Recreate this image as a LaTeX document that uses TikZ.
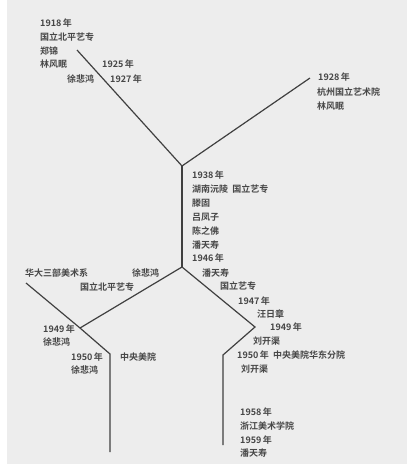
\documentclass[tikz,border=0pt]{standalone}
\usepackage{fontspec}
\setmainfont{Liberation Serif}
\newfontfamily\cjk{Noto Sans CJK SC}[BoldFont={Noto Sans CJK SC Bold}]
\newcommand{\yr}[1]{#1\,{\cjk 年}}
\begin{document}
\begin{tikzpicture}[x=1pt,y=-1pt,
  lbl/.style={anchor=west,inner sep=0pt,font=\fontsize{9}{9}\selectfont\cjk\bfseries,text=black!72},
  branch/.style={draw=black!75,line width=1.2pt}]
\fill[black!7] (0,0) rectangle (407,464);
\fill[white] (0,0) rectangle (7,464);
\useasboundingbox (0,0) rectangle (407,464);
% junction coordinates
\coordinate (ul) at (77,50);
\coordinate (ur) at (310,78);
\coordinate (j1) at (182,166);
\coordinate (j2) at (182,267);
\coordinate (la) at (26,283);
\coordinate (lm) at (80,328);
\coordinate (lb) at (110,354);
\coordinate (le) at (110,452);
\coordinate (rk) at (255,327);
\coordinate (rb) at (223,355);
\coordinate (re) at (223,445);
% connectors
\draw[branch] (ul) -- (j1);
\draw[branch] (ur) -- (j1);
\draw[branch] (j1) -- (j2);
\draw[branch] (j2) -- (lm);
\draw[branch] (la) -- (lm) -- (lb) -- (le);
\draw[branch] (j2) -- (rk) -- (rb) -- (re);
% labels top-left
\node[lbl] (t1) at (40,23) {\yr{1918}};
\node[lbl] (t2) at (40,37) {国立北平艺专};
\node[lbl] (t3) at (40,51) {郑锦};
\node[lbl] (t4) at (40,64) {林风眠};
\node[lbl] (t5) at (102,64) {\yr{1925}};
\node[lbl] (t6) at (67,79) {徐悲鸿};
\node[lbl] (t7) at (110,79) {\yr{1927}};
% top-right
\node[lbl] (r1) at (318,77) {\yr{1928}};
\node[lbl] (r2) at (317,92) {杭州国立艺术院};
\node[lbl] (r3) at (317,106) {林风眠};
% centre
\node[lbl] (c1) at (192,175) {\yr{1938}};
\node[lbl] (c2) at (192,189) {湖南沅陵\ \ 国立艺专};
\node[lbl] (c3) at (192,203) {滕固};
\node[lbl] (c4) at (192,217) {吕凤子};
\node[lbl] (c5) at (192,231) {陈之佛};
\node[lbl] (c6) at (192,245) {潘天寿};
\node[lbl] (c7) at (192,258) {\yr{1946}};
% lower right
\node[lbl] (d1) at (202,273) {潘天寿};
\node[lbl] (d2) at (220,286) {国立艺专};
\node[lbl] (d3) at (238,301) {\yr{1947}};
\node[lbl] (d4) at (257,314) {汪日章};
\node[lbl] (d5) at (270,327) {\yr{1949}};
\node[lbl] (d6) at (253,341) {刘开渠};
\node[lbl] (d7) at (237,355) {\yr{1950}\ \ 中央美院华东分院};
\node[lbl] (d8) at (241,369) {刘开渠};
\node[lbl] (d9) at (240,412) {\yr{1958}};
\node[lbl] (d10) at (240,426) {浙江美术学院};
\node[lbl] (d11) at (240,440) {\yr{1959}};
\node[lbl] (d12) at (240,453) {潘天寿};
% lower left
\node[lbl] (e1) at (25,273) {华大三部美术系};
\node[lbl] (e2) at (132,273) {徐悲鸿};
\node[lbl] (e3) at (80,287) {国立北平艺专};
\node[lbl] (e4) at (43,329) {\yr{1949}};
\node[lbl] (e5) at (43,342) {徐悲鸿};
\node[lbl] (e6) at (71,357) {\yr{1950}};
\node[lbl] (e7) at (71,370) {徐悲鸿};
\node[lbl] (e8) at (120,357) {中央美院};
\end{tikzpicture}
\end{document}
